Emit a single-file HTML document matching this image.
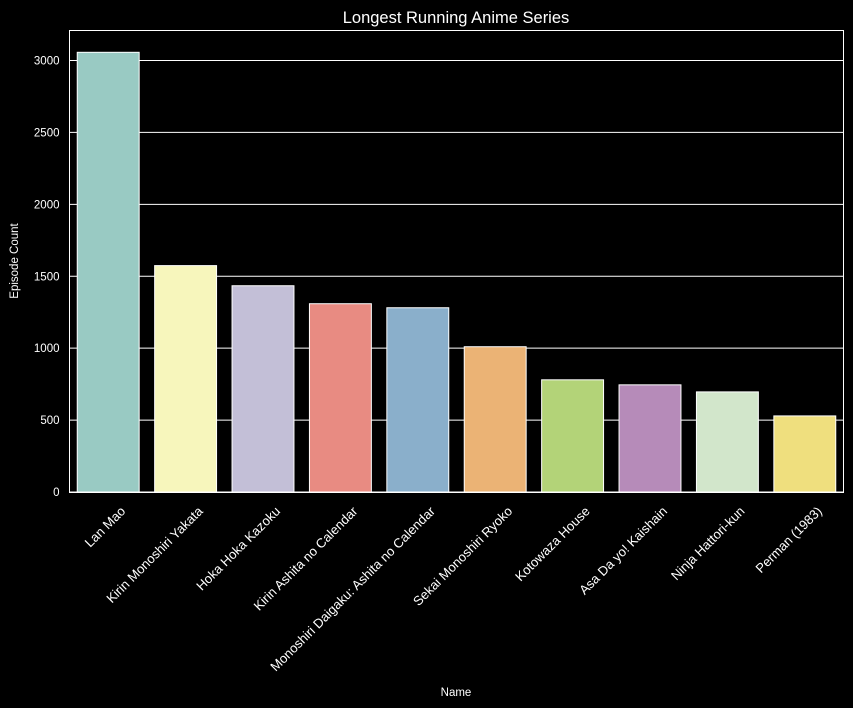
<!DOCTYPE html>
<html><head><meta charset="utf-8"><style>
body{margin:0;background:#000;}
svg{display:block;font-family:"Liberation Sans",sans-serif;}
</style></head><body>
<svg id="c" width="853" height="708" viewBox="0 0 853 708">
<rect width="853" height="708" fill="#000"/>
<text x="456" y="23" fill="#fff" font-size="16.5" text-anchor="middle">Longest Running Anime Series</text>
<g id="grid"></g><g id="bars"></g><g id="ticks"></g>
<rect x="69.5" y="30.5" width="774" height="462" fill="none" stroke="#fff" stroke-width="1"/>
<text transform="translate(18,261) rotate(-90)" fill="#fff" font-size="11.5" text-anchor="middle">Episode Count</text>
<text x="456" y="696" fill="#fff" font-size="11.5" text-anchor="middle">Name</text>
</svg>
<script>
const categories=["Lan Mao","Kirin Monoshiri Yakata","Hoka Hoka Kazoku","Kirin Ashita no Calendar","Monoshiri Daigaku: Ashita no Calendar","Sekai Monoshiri Ryoko","Kotowaza House","Asa Da yo! Kaishain","Ninja Hattori-kun","Perman (1983)"];
const episodes=[3057,1574,1434,1309,1281,1010,780,745,696,529];
const yTicks=[0,500,1000,1500,2000,2500,3000];
const colors=["#99cac3","#f7f6bc","#c3bfd7","#e88b82","#8aafcb","#ebb375","#b3d378","#b68bb9","#d2e6cb","#efdf7e"];
const ns="http://www.w3.org/2000/svg";
const L=69.5,R=843.5,Y0=492,Y3000=60.5;
const y=v=>Y0-(Y0-Y3000)*v/3000;
const slot=(R-L)/categories.length;
const x=i=>L+slot*(i+0.5);
const g=document.getElementById('grid'),b=document.getElementById('bars'),t=document.getElementById('ticks');
function mk(tag,a,p){const e=document.createElementNS(ns,tag);for(const k in a)e.setAttribute(k,a[k]);p.appendChild(e);return e;}
yTicks.forEach(v=>{
  const ln=mk('line',{x1:L,x2:R,y1:y(v),y2:y(v),stroke:'#fff','stroke-width':1},g);
  
  
  const tx=mk('text',{x:L-10,y:y(v)+4,fill:'#fff','font-size':11.5,'text-anchor':'end'},t);
  tx.textContent=v;
  
  
});
categories.forEach((c,i)=>{
  const w=slot*0.8;
  const r=mk('rect',{x:x(i)-w/2,y:y(episodes[i]),width:w,height:Y0-y(episodes[i]),fill:colors[i],stroke:'#fff','stroke-width':1},b);
  
  
  const tx=mk('text',{transform:`translate(${x(i)+18},${Y0+20}) rotate(-45)`,fill:'#fff','font-size':13.1,'text-anchor':'end'},t);
  tx.textContent=c;
  
  
});
</script>
</body></html>
